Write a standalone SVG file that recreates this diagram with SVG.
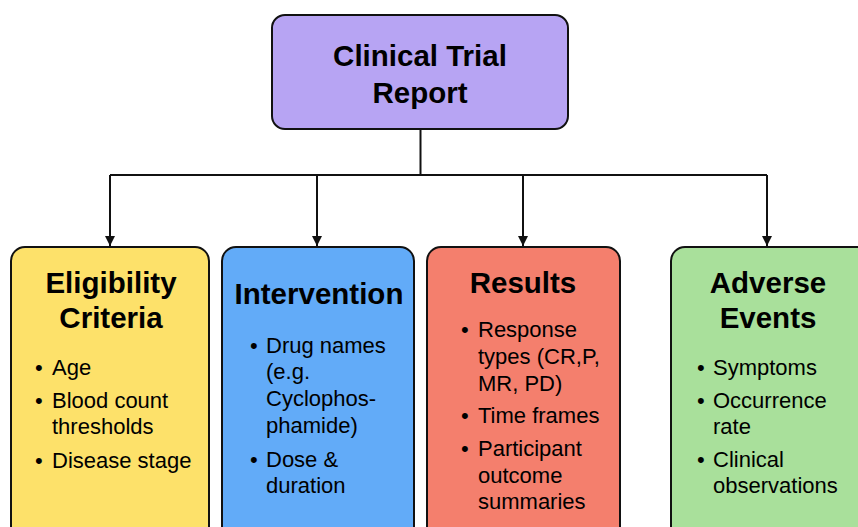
<svg xmlns="http://www.w3.org/2000/svg" width="858" height="527" viewBox="0 0 858 527">
<style>
.box{stroke:#111;stroke-width:2}
.t{font-family:"Liberation Sans",Arial,sans-serif;font-weight:bold;font-size:29.5px;fill:#000;text-anchor:middle}
.b{font-family:"Liberation Sans",Arial,sans-serif;font-size:22px;fill:#000}
.c{stroke:#111;stroke-width:2;fill:none}
</style>
<defs>
<marker id="ah" markerWidth="12" markerHeight="12" refX="10" refY="5" orient="auto" markerUnits="userSpaceOnUse">
<path d="M0,0 L10,5 L0,10 Z" fill="#111"/>
</marker>
</defs>
<rect width="858" height="527" fill="#fff"/>
<g id="connectors">
<path class="c" d="M420.5,129 V175"/>
<path class="c" d="M110,175 H767"/>
<path class="c" d="M110,175 V246" marker-end="url(#ah)"/>
<path class="c" d="M317,175 V246" marker-end="url(#ah)"/>
<path class="c" d="M523,175 V246" marker-end="url(#ah)"/>
<path class="c" d="M767,175 V246" marker-end="url(#ah)"/>
</g>
<g id="root">
<rect class="box" x="272" y="15" width="296" height="114" rx="13" fill="#b7a4f3"/>
<text class="t" x="420" y="66">Clinical Trial</text>
<text class="t" x="420" y="103">Report</text>
</g>
<g id="eligibility">
<rect class="box" x="11" y="247" width="198" height="300" rx="14" fill="#fde16a"/>
<text class="t" x="111" y="293">Eligibility</text>
<text class="t" x="111" y="328">Criteria</text>
<text class="b" x="35" y="375">•</text><text class="b" x="52" y="375">Age</text>
<text class="b" x="35" y="408">•</text><text class="b" x="52" y="408">Blood count</text>
<text class="b" x="52" y="434">thresholds</text>
<text class="b" x="35" y="468">•</text><text class="b" x="52" y="468">Disease stage</text>
</g>
<g id="intervention">
<rect class="box" x="222" y="247" width="192" height="300" rx="14" fill="#62abf8"/>
<text class="t" x="319" y="304">Intervention</text>
<text class="b" x="250" y="353">•</text><text class="b" x="266" y="353">Drug names</text>
<text class="b" x="266" y="379">(e.g.</text>
<text class="b" x="266" y="406">Cyclophos-</text>
<text class="b" x="266" y="433">phamide)</text>
<text class="b" x="250" y="467">•</text><text class="b" x="266" y="467">Dose &amp;</text>
<text class="b" x="266" y="493">duration</text>
</g>
<g id="results">
<rect class="box" x="427" y="247" width="193" height="300" rx="14" fill="#f47f6d"/>
<text class="t" x="523" y="293">Results</text>
<text class="b" x="461" y="337">•</text><text class="b" x="478" y="337">Response</text>
<text class="b" x="478" y="364">types (CR,P,</text>
<text class="b" x="478" y="391">MR, PD)</text>
<text class="b" x="461" y="423">•</text><text class="b" x="478" y="423">Time frames</text>
<text class="b" x="461" y="456">•</text><text class="b" x="478" y="456">Participant</text>
<text class="b" x="478" y="483">outcome</text>
<text class="b" x="478" y="509">summaries</text>
</g>
<g id="adverse">
<rect class="box" x="671" y="247" width="200" height="300" rx="14" fill="#a9e09b"/>
<text class="t" x="768" y="293">Adverse</text>
<text class="t" x="768" y="328">Events</text>
<text class="b" x="697" y="375">•</text><text class="b" x="713" y="375">Symptoms</text>
<text class="b" x="697" y="408">•</text><text class="b" x="713" y="408">Occurrence</text>
<text class="b" x="713" y="434">rate</text>
<text class="b" x="697" y="467">•</text><text class="b" x="713" y="467">Clinical</text>
<text class="b" x="713" y="493">observations</text>
</g>
</svg>
